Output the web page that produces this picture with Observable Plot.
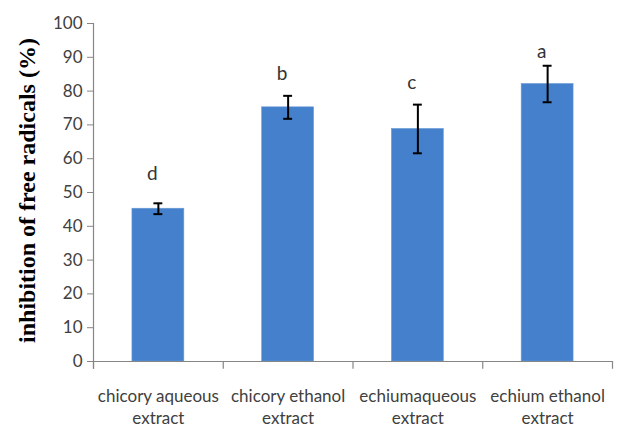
<!DOCTYPE html>
<html><head><meta charset="utf-8">
<script src="https://cdn.jsdelivr.net/npm/d3@7"></script>
<script src="https://cdn.jsdelivr.net/npm/@observablehq/plot@0.6"></script>
<style>body{margin:0;background:#fff}</style>
</head><body><div id="chart"></div>
<script>
const categories = ["chicory aqueous extract", "chicory ethanol extract", "echiumaqueous extract", "echium ethanol extract"];
const labels = ["chicory aqueous\nextract", "chicory ethanol\nextract", "echiumaqueous\nextract", "echium ethanol\nextract"];
const means = [45.2, 75.2, 68.8, 82.1];
const errors = [1.6, 3.4, 7.2, 5.4];
const letters = ["d", "b", "c", "a"];
const letterY = [55.4, 85.2, 82.5, 91.6];
const yTicks = [0, 10, 20, 30, 40, 50, 60, 70, 80, 90, 100];
const yLabel = "inhibition of free radicals (%)";

const data = categories.map((c, i) => ({
  cat: c, label: labels[i], mean: means[i], err: errors[i],
  lo: means[i] - errors[i], hi: means[i] + errors[i],
  letter: letters[i], ly: letterY[i]
}));

const W = 617, H = 429, mL = 93, mR = 5, mT = 23, mB = 68;
const half = (W - mL - mR) / categories.length / 2;
const axisColor = "#868686";
const font = "Lato, 'Open Sans', sans-serif";

const plot = Plot.plot({
  width: W, height: H,
  marginLeft: mL, marginRight: mR, marginTop: mT, marginBottom: mB,
  style: {fontFamily: font, background: "#fff", overflow: "visible"},
  x: {domain: categories, paddingInner: 0.6, paddingOuter: 0.3, round: false, axis: null},
  y: {domain: [0, 100], axis: null},
  marks: [
    Plot.barY(data, {x: "cat", y: "mean", fill: "#4480cb", stroke: "#6a9ad6", strokeWidth: 0.6}),
    Plot.ruleY([0], {stroke: axisColor, strokeWidth: 1.2}),
    Plot.ruleX([categories[0]], {dx: -half, y1: -2.3, y2: 100, stroke: axisColor, strokeWidth: 1.2}),
    Plot.ruleX(categories, {dx: -half, y1: 0, y2: -2.3, stroke: axisColor, strokeWidth: 1.2}),
    Plot.ruleX([categories[categories.length - 1]], {dx: half, y1: 0, y2: -2.3, stroke: axisColor, strokeWidth: 1.2}),
    Plot.axisY({ticks: yTicks, tickSize: 6, tickPadding: 5, fontSize: 17, stroke: axisColor, fill: "#404040"}),
    Plot.text(data, {x: "cat", frameAnchor: "bottom", text: "label", lineAnchor: "top", dy: 25, lineHeight: 1.3, fontSize: 17, fill: "#404040"}),
    Plot.ruleX(data, {x: "cat", y1: "lo", y2: "hi", stroke: "#000", strokeWidth: 2}),
    Plot.tickY(data, {x: "cat", y: "lo", insetLeft: 21.5, insetRight: 21.5, stroke: "#000", strokeWidth: 2}),
    Plot.tickY(data, {x: "cat", y: "hi", insetLeft: 21.5, insetRight: 21.5, stroke: "#000", strokeWidth: 2}),
    Plot.text(data, {x: "cat", y: "ly", text: "letter", dx: -6, fontSize: 19, fill: "#333"}),
    Plot.text([yLabel], {frameAnchor: "left", textAnchor: "middle", dx: -66, dy: -2, rotate: -90, fontSize: 24, fontWeight: "bold", fontFamily: "'Liberation Serif', 'Times New Roman', serif", fill: "#000"})
  ]
});
document.getElementById("chart").appendChild(plot);
</script>
</body></html>
